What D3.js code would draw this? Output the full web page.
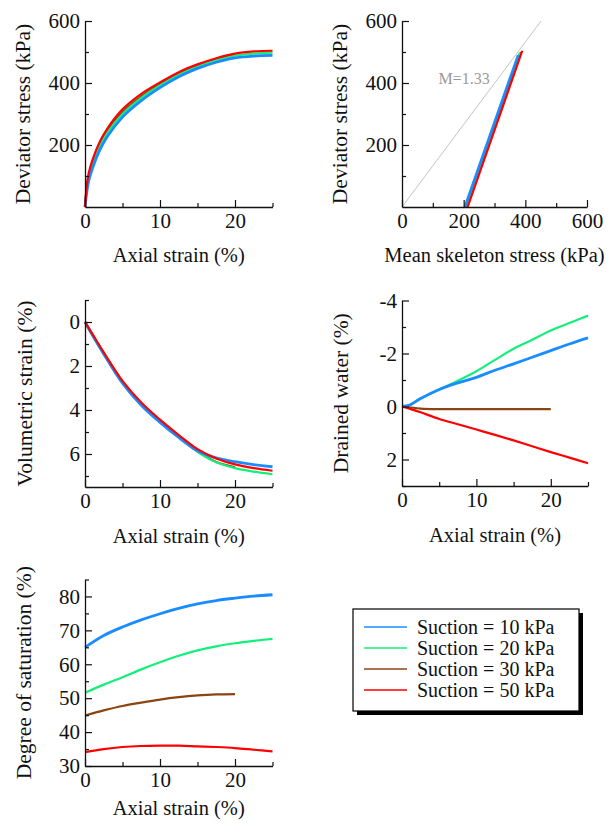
<!DOCTYPE html>
<html>
<head>
<meta charset="utf-8">
<script src="https://cdn.jsdelivr.net/npm/d3@7"></script>
<style>
  body { margin: 0; background: #fff; }
  svg text { font-family: "Liberation Serif", "Times New Roman", serif; fill: #111; }
</style>
</head>
<body>
<svg width="613" height="825"></svg>
<script>
// series names + colours
const seriesNames = ['Suction = 10 kPa', 'Suction = 20 kPa', 'Suction = 30 kPa', 'Suction = 50 kPa'];
const seriesColors = ['#1a8cff', '#12f07a', '#8b4513', '#ff0000'];

// deviator stress vs axial strain
const strainQ = [0, 0.25, 0.5, 1, 2, 3, 5, 7.5, 10, 12.5, 15, 17.5, 20, 22.5, 25];
const qS10 = [0, 50, 85, 125, 185, 228, 290, 343, 385, 420, 447, 467, 481, 487, 489];
const qS20 = [0, 60, 95, 138, 198, 240, 300, 352, 392, 427, 453, 473, 488, 495, 498];
const qS30 = [0, 65, 100, 143, 203, 245, 306, 357, 396, 430, 456, 476, 491];
const qS50 = [0, 72, 110, 152, 212, 254, 315, 365, 402, 435, 460, 480, 495, 502, 504];

// stress paths (mean skeleton stress, deviator stress)
const pathP10 = [204, 377], pathQ10 = [0, 490];
const pathP20 = [207, 382], pathQ20 = [0, 498];
const pathP30 = [209, 386], pathQ30 = [0, 500];
const pathP50 = [213, 390], pathQ50 = [0, 504];
const critP = [0, 451], critQ = [0, 600];

// volumetric strain vs axial strain
const strainV = [0, 1, 2.5, 5, 7.5, 10, 12.5, 15, 17.5, 20, 22.5, 25];
const volS10 = [0, 0.6, 1.45, 2.78, 3.78, 4.56, 5.25, 5.85, 6.18, 6.35, 6.48, 6.58];
const volS20 = [0, 0.6, 1.45, 2.78, 3.76, 4.54, 5.24, 5.9, 6.38, 6.64, 6.8, 6.92];
const volS30 = [0, 0.58, 1.42, 2.74, 3.73, 4.51, 5.21, 5.88, 6.36, 6.6];
const volS50 = [0, 0.55, 1.38, 2.68, 3.66, 4.44, 5.14, 5.78, 6.2, 6.47, 6.64, 6.76];

// drained water vs axial strain
const waterS10 = [0, -0.05, -0.3, -0.64, -0.89, -1.1, -1.37, -1.61, -1.86, -2.11, -2.36, -2.59];
const waterS20 = [0, -0.05, -0.3, -0.64, -0.97, -1.33, -1.76, -2.18, -2.52, -2.87, -3.15, -3.43];
const waterS30 = [0, 0.03, 0.08, 0.1, 0.1, 0.1, 0.1, 0.1, 0.1, 0.1];
const waterS50 = [0, 0.08, 0.22, 0.47, 0.67, 0.87, 1.07, 1.28, 1.5, 1.72, 1.93, 2.14];

// degree of saturation vs axial strain
const strainSr = [0, 2.5, 5, 7.5, 10, 12.5, 15, 17.5, 20, 22.5, 25];
const srS10 = [65.0, 68.5, 71.0, 73.1, 74.9, 76.5, 77.8, 78.8, 79.5, 80.1, 80.5];
const srS20 = [51.6, 54.0, 56.2, 58.5, 60.6, 62.5, 64.1, 65.3, 66.2, 66.9, 67.5];
const srS30 = [44.9, 46.4, 47.7, 48.7, 49.6, 50.3, 50.8, 51.1, 51.2];
const srS50 = [34.1, 35.0, 35.6, 35.9, 36.0, 36.0, 35.8, 35.6, 35.3, 34.8, 34.3];

const svg = d3.select('svg');
const drawOrder = [2, 1, 0, 3]; // brown, green, blue, red

function zip(xs, ys) {
  return ys.map((v, i) => [xs[i], v]);
}

// draws axes for one panel, ticks point inward
function axes(p) {
  const y0 = d3.max(p.y.range()); // bottom of plot
  const x0 = p.x.range()[0];
  const fmt = d => String(d);

  svg.append('g').attr('class', 'ax')
    .attr('transform', 'translate(0,' + y0 + ')')
    .call(d3.axisBottom(p.x).tickValues(p.xMajor).tickSize(-7).tickSizeOuter(0).tickPadding(6).tickFormat(fmt));
  svg.append('g').attr('class', 'ax minor')
    .attr('transform', 'translate(0,' + y0 + ')')
    .call(d3.axisBottom(p.x).tickValues(p.xMinor).tickSize(-4).tickSizeOuter(0).tickFormat(''));

  svg.append('g').attr('class', 'ax')
    .attr('transform', 'translate(' + x0 + ',0)')
    .call(d3.axisLeft(p.y).tickValues(p.yMajor).tickSize(-7).tickSizeOuter(0).tickPadding(5).tickFormat(fmt));
  svg.append('g').attr('class', 'ax minor')
    .attr('transform', 'translate(' + x0 + ',0)')
    .call(d3.axisLeft(p.y).tickValues(p.yMinor).tickSize(-4).tickSizeOuter(0).tickFormat(''));

  // x title
  svg.append('text')
    .attr('x', (p.x.range()[0] + p.x.range()[1]) / 2)
    .attr('y', p.xTitleY)
    .attr('text-anchor', 'middle')
    .style('font-size', '20.5px')
    .text(p.xTitle);

  // y title
  svg.append('text')
    .attr('transform', 'translate(' + p.yTitleX + ',' + (p.y.range()[0] + p.y.range()[1]) / 2 + ') rotate(-90)')
    .attr('text-anchor', 'middle')
    .attr('dy', '0.35em')
    .style('font-size', '21.5px')
    .text(p.yTitle);
}

function curves(p, xs, ys, curve) {
  const line = d3.line()
    .x(d => p.x(d[0]))
    .y(d => p.y(d[1]))
    .curve(curve || d3.curveCatmullRom.alpha(0.5));
  drawOrder.forEach(i => {
    const xv = Array.isArray(xs[0]) ? xs[i] : xs;
    svg.append('path')
      .datum(zip(xv, ys[i]))
      .attr('fill', 'none')
      .attr('stroke', seriesColors[i])
      .attr('stroke-width', i === 0 ? 2.8 : 2.2)
      .attr('d', line);
  });
}

// panel 1: deviator stress
const p1 = {
  x: d3.scaleLinear().domain([0, 25]).range([85, 272.5]),
  y: d3.scaleLinear().domain([0, 600]).range([207, 21]),
  xMajor: [0, 10, 20], xMinor: [5, 15, 25],
  yMajor: [200, 400, 600], yMinor: [100, 300, 500],
  xTitle: 'Axial strain (%)', xTitleY: 262,
  yTitle: 'Deviator stress (kPa)', yTitleX: 22
};
curves(p1, strainQ, [qS10, qS20, qS30, qS50]);
axes(p1);

// panel 2: stress paths
const p2 = {
  x: d3.scaleLinear().domain([0, 600]).range([402, 587]),
  y: d3.scaleLinear().domain([0, 600]).range([207, 21]),
  xMajor: [0, 200, 400, 600], xMinor: [100, 300, 500],
  yMajor: [200, 400, 600], yMinor: [100, 300, 500],
  xTitle: 'Mean skeleton stress (kPa)', xTitleY: 262,
  yTitle: 'Deviator stress (kPa)', yTitleX: 339
};
svg.append('path')
  .datum(zip(critP, critQ))
  .attr('fill', 'none')
  .attr('stroke', '#c4c4c4')
  .attr('stroke-width', 1)
  .attr('d', d3.line().x(d => p2.x(d[0])).y(d => p2.y(d[1])));
svg.append('text')
  .attr('x', p2.x(118))
  .attr('y', p2.y(398))
  .style('font-size', '16px')
  .style('fill', '#9a9a9a')
  .text('M=1.33');
curves(p2, [pathP10, pathP20, pathP30, pathP50], [pathQ10, pathQ20, pathQ30, pathQ50], d3.curveLinear);
axes(p2);

// panel 3: volumetric strain
const p3 = {
  x: d3.scaleLinear().domain([0, 25]).range([85, 272.5]),
  y: d3.scaleLinear().domain([-1, 7.5]).range([300, 487]),
  xMajor: [0, 10, 20], xMinor: [5, 15, 25],
  yMajor: [0, 2, 4, 6], yMinor: [-1, 1, 3, 5, 7],
  xTitle: 'Axial strain (%)', xTitleY: 543,
  yTitle: 'Volumetric strain (%)', yTitleX: 24
};
curves(p3, strainV, [volS10, volS20, volS30, volS50]);
axes(p3);

// panel 4: drained water
const p4 = {
  x: d3.scaleLinear().domain([0, 25]).range([402, 588]),
  y: d3.scaleLinear().domain([-4, 3]).range([300.5, 486]),
  xMajor: [0, 10, 20], xMinor: [5, 15, 25],
  yMajor: [-4, -2, 0, 2], yMinor: [-3, -1, 1, 3],
  xTitle: 'Axial strain (%)', xTitleY: 542,
  yTitle: 'Drained water (%)', yTitleX: 340
};
curves(p4, strainV, [waterS10, waterS20, waterS30, waterS50]);
axes(p4);

// panel 5: degree of saturation
const p5 = {
  x: d3.scaleLinear().domain([0, 25]).range([85, 272.5]),
  y: d3.scaleLinear().domain([30, 85]).range([766, 579.5]),
  xMajor: [0, 10, 20], xMinor: [5, 15, 25],
  yMajor: [30, 40, 50, 60, 70, 80], yMinor: [35, 45, 55, 65, 75, 85],
  xTitle: 'Axial strain (%)', xTitleY: 815,
  yTitle: 'Degree of saturation (%)', yTitleX: 23
};
curves(p5, strainSr, [srS10, srS20, srS30, srS50]);
axes(p5);

// axis styling
svg.selectAll('.ax path.domain').attr('stroke', '#111').attr('stroke-width', 1.3);
svg.selectAll('.ax.minor path.domain').remove();
svg.selectAll('.ax .tick line').attr('stroke', '#111').attr('stroke-width', 1.2);
svg.selectAll('.ax text').style('font-size', '21px').style('font-family', '"Liberation Serif", serif').attr('fill', '#111');

// legend
const legend = { x: 353, y: 609, w: 226, h: 102 };
svg.append('rect')
  .attr('x', legend.x + 4).attr('y', legend.y + 4)
  .attr('width', legend.w).attr('height', legend.h)
  .attr('fill', '#000');
svg.append('rect')
  .attr('x', legend.x).attr('y', legend.y)
  .attr('width', legend.w).attr('height', legend.h)
  .attr('fill', '#fff').attr('stroke', '#000').attr('stroke-width', 1.2);
seriesNames.forEach((name, i) => {
  const yy = legend.y + 18 + i * 21;
  svg.append('line')
    .attr('x1', 364).attr('x2', 407)
    .attr('y1', yy).attr('y2', yy)
    .attr('stroke', seriesColors[i]).attr('stroke-width', 1.5);
  svg.append('text')
    .attr('x', 417).attr('y', yy)
    .attr('dy', '0.33em')
    .style('font-size', '20px')
    .text(name);
});
</script>
</body>
</html>
